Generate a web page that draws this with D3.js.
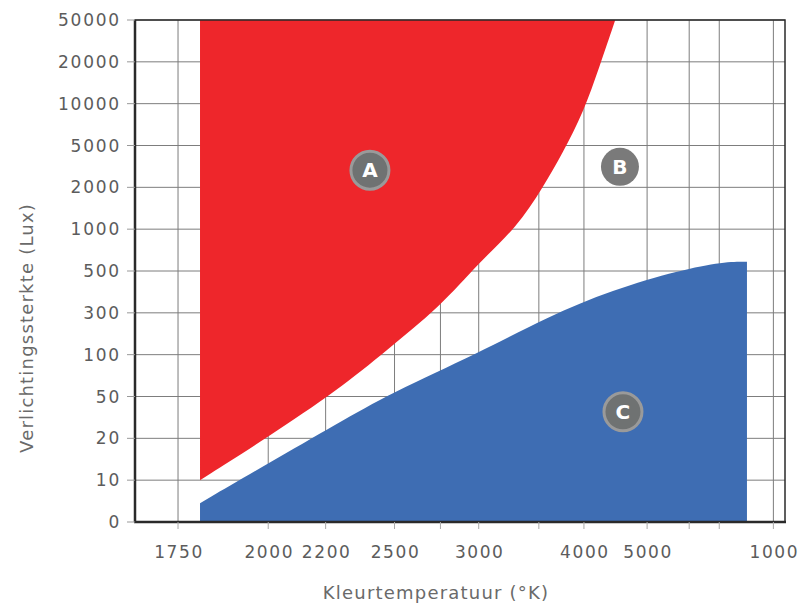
<!DOCTYPE html>
<html>
<head>
<meta charset="UTF-8">
<script src="https://cdn.jsdelivr.net/npm/d3@7/dist/d3.min.js"></script>
<style>
body{
    margin: 0;
    background: #fff;
    font-family: "DejaVu Sans", "Open Sans", sans-serif;
}
</style>
</head>
<body>
<script>
// y levels are evenly spaced on the chart, whatever their value
var yLevels = [0, 10, 20, 50, 100, 300, 500, 1000, 2000, 5000, 10000, 20000, 50000]
// x is drawn linear in reciprocal temperature (mired)
var xTicks = [1750, 2000, 2200, 2500, 3000, 4000, 5000, 10000]
var xTickLabels = ["1750", "2000", "2200", "2500", "3000", "4000", "5000", "1000"]
var xGrid = [1750, 2000, 2200, 2500, 2750, 3000, 3500, 4000, 5000, 6000, 7000, 10000]

// region A (red): lower boundary, region runs up to the top
var redT = [1805, 2000, 2250, 2460, 2750, 3000, 3300, 3540, 3750, 3990, 4210, 4440]
var redLux = [10, 21, 58, 120, 330, 600, 1050, 2000, 4500, 8900, 19000, 50000]

// region C (blue): upper boundary, region runs down to 0
var blueT = [1805, 2000, 2250, 2480, 3000, 3580, 4400, 5750, 7150, 8270]
var blueLux = [4.5, 14, 31, 54, 108, 280, 410, 510, 610, 610]

var badges = ["A", "B", "C"]
var badgeT = [2384, 4515, 4564]
var badgeLux = [3230, 3470, 39]

var width = 799
var height = 607
var padL = 135, padR = 785, padT = 20, padB = 522

var svg = d3.select('body')
    .append('svg')
    .attr('width', width)
    .attr('height', height)

let mired = function(t){ return 1e6 / t }
let xs = d3.scaleLinear().domain([605.5, 90.8]).range([padL, padR])
let x = function(t){ return xs(mired(t)) }

let step = (padB - padT) / (yLevels.length - 1)
let y = d3.scaleLinear()
    .domain(yLevels)
    .range(yLevels.map(function(d, i){ return padB - i * step }))

// grid
let grid = svg.append("g").attr("stroke", "#7d7d7d").attr("stroke-width", 1)
yLevels.forEach(function(v){
    grid.append("line")
        .attr("x1", padL).attr("x2", padR)
        .attr("y1", y(v)).attr("y2", y(v))
})
xGrid.forEach(function(t){
    grid.append("line")
        .attr("x1", x(t)).attr("x2", x(t))
        .attr("y1", padT).attr("y2", padB)
})

// regions
let redPts = redT.map(function(t, i){ return [t, redLux[i]] })
let bluePts = blueT.map(function(t, i){ return [t, blueLux[i]] })

let redArea = d3.area()
    .x(function(d){ return x(d[0]) })
    .y0(function(d){ return y(d[1]) })
    .y1(y(50000))
    .curve(d3.curveBasis)

let blueArea = d3.area()
    .x(function(d){ return x(d[0]) })
    .y0(y(0))
    .y1(function(d){ return y(d[1]) })
    .curve(d3.curveBasis)

svg.append("path")
    .attr("d", redArea(redPts))
    .attr("fill", "#ee262b")

svg.append("path")
    .attr("d", blueArea(bluePts))
    .attr("fill", "#3e6db3")

// frame
svg.append("rect")
    .attr("x", padL).attr("y", padT)
    .attr("width", padR - padL).attr("height", padB - padT)
    .attr("fill", "none")
    .attr("stroke", "#2a2a2a")
    .attr("stroke-width", 1.5)
svg.append("line")
    .attr("x1", padL).attr("x2", padL)
    .attr("y1", padT).attr("y2", padB)
    .attr("stroke", "#2a2a2a").attr("stroke-width", 2.5)
svg.append("line")
    .attr("x1", padL - 1).attr("x2", padR + 1)
    .attr("y1", padB).attr("y2", padB)
    .attr("stroke", "#2a2a2a").attr("stroke-width", 2.5)

// y axis ticks and labels
yLevels.forEach(function(v){
    svg.append("line")
        .attr("x1", padL - 8).attr("x2", padL)
        .attr("y1", y(v)).attr("y2", y(v))
        .attr("stroke", "#999").attr("stroke-width", 1)
    svg.append("text")
        .attr("x", 121)
        .attr("y", y(v) + 6)
        .attr("text-anchor", "end")
        .attr("font-size", 17)
        .attr("letter-spacing", 1.8)
        .attr("fill", "#5c5c5c")
        .text(v)
})

// x axis ticks and labels
xGrid.forEach(function(t){
    svg.append("line")
        .attr("x1", x(t)).attr("x2", x(t))
        .attr("y1", padB).attr("y2", padB + 7)
        .attr("stroke", "#aaa").attr("stroke-width", 1)
})
xTicks.forEach(function(t, i){
    svg.append("text")
        .attr("x", x(t) + 1)
        .attr("y", 558)
        .attr("text-anchor", "middle")
        .attr("font-size", 17)
        .attr("letter-spacing", 1.6)
        .attr("fill", "#5c5c5c")
        .text(xTickLabels[i])
})

// axis titles
svg.append("text")
    .attr("transform", "translate(33,328) rotate(-90)")
    .attr("text-anchor", "middle")
    .attr("font-size", 18)
    .attr("letter-spacing", 1.2)
    .attr("fill", "#6a6a6a")
    .text("Verlichtingssterkte (Lux)")

svg.append("text")
    .attr("x", 436)
    .attr("y", 599)
    .attr("text-anchor", "middle")
    .attr("font-size", 18)
    .attr("letter-spacing", 1.2)
    .attr("fill", "#6a6a6a")
    .text("Kleurtemperatuur (°K)")

// badges
badges.forEach(function(b, i){
    let g = svg.append("g")
        .attr("transform", "translate(" + x(badgeT[i]) + "," + y(badgeLux[i]) + ")")
    g.append("circle")
        .attr("r", 19)
        .attr("fill", b == "B" ? "#7a7a7a" : "#6f7272")
        .attr("stroke", b == "B" ? "none" : "#9a9a9a")
        .attr("stroke-width", 3)
    g.append("text")
        .attr("y", 7)
        .attr("text-anchor", "middle")
        .attr("font-size", 20)
        .attr("font-weight", "bold")
        .attr("fill", "#fff")
        .text(b)
})
</script>
</body>
</html>
